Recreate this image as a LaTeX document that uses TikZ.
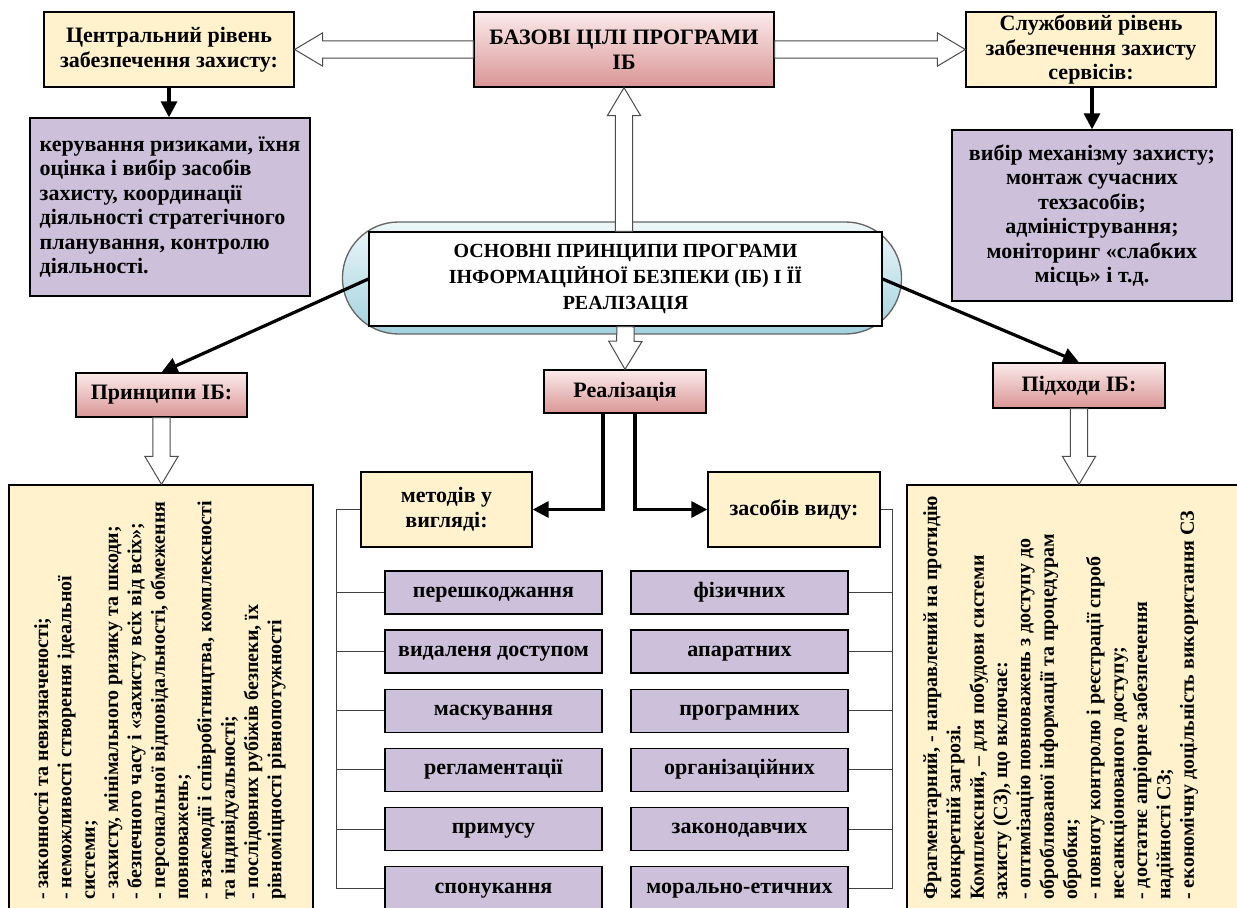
\documentclass[tikz,border=0pt]{standalone}
\usepackage{fontspec}
\setmainfont{Liberation Serif}
\usetikzlibrary{positioning, calc, arrows.meta, shapes.misc}

\definecolor{boxyellow}{RGB}{255,242,204}
\definecolor{boxpurple}{RGB}{204,192,218}
\definecolor{pinklight}{RGB}{251,234,234}
\definecolor{pinkdark}{RGB}{218,150,150}
\definecolor{pilltop}{RGB}{238,247,250}
\definecolor{pillbottom}{RGB}{162,210,222}

% hollow block arrow from #1 to #2
\newcommand{\hollowarrow}[2]{%
  \path ($(#2)!21pt!(#1)$) coordinate (ha);
  \draw[hollow] ($(#1)!6.5pt!90:(#2)$) -- ($(ha)!6.5pt!-90:(#1)$) -- ($(ha)!12.5pt!-90:(#1)$) -- (#2)
    -- ($(ha)!12.5pt!90:(#1)$) -- ($(ha)!6.5pt!90:(#1)$) -- ($(#1)!6.5pt!-90:(#2)$) -- cycle;
}

\begin{document}
\begin{tikzpicture}[x=0.75pt, y=-0.75pt,
    every node/.style={font=\fontsize{16.5}{18.4}\selectfont\bfseries},
    boxsize/.style 2 args={minimum width=#1*0.75pt, minimum height=#2*0.75pt},
    yellowbox/.style={draw, line width=1pt, fill=boxyellow, align=center, inner sep=2pt},
    purplebox/.style={draw, line width=1pt, fill=boxpurple, align=center, inner sep=2pt},
    pinkbox/.style={draw, line width=1pt, top color=pinklight, bottom color=pinkdark, align=center, inner sep=2pt},
    itembox/.style={purplebox, boxsize={217}{43}, text height=9pt, text depth=1.4pt},
    blackarrow/.style={line width=2.4pt, -{Triangle[length=12pt, width=12pt]}},
    hollow/.style={draw=black!70, line width=0.75pt, fill=white},
    bracket/.style={line width=0.6pt, black!75},
    vtext/.style={rotate=90, anchor=north west, inner sep=0pt, align=left, font=\fontsize{15}{17.5}\selectfont\bfseries}
]
    \useasboundingbox[fill=white] (0,0) rectangle (1237,907);
    \clip (0,0) rectangle (1237,907);

    % Draw top row
    \node[yellowbox, boxsize={250}{75}] (central) at (169,49.5) {Центральний рівень\\забезпечення захисту:};
    \node[pinkbox, boxsize={300}{75}] (goals) at (624,49.5) {БАЗОВІ ЦІЛІ ПРОГРАМИ\\ІБ};
    \node[yellowbox, boxsize={250}{75}] (service) at (1091,49.5) {Службовий рівень\\забезпечення захисту\\сервісів:};

    \node[purplebox, boxsize={280}{178}, align=left] (risks) at (170,207) {керування ризиками, їхня\\оцінка і вибір засобів\\захисту, координації\\діяльності стратегічного\\планування, контролю\\діяльності.};
    \node[purplebox, boxsize={280}{171}] (mech) at (1092,215.5) {вибір механізму захисту;\\монтаж сучасних\\техзасобів;\\адміністрування;\\моніторинг «слабких\\місць» і т.д.};

    % Draw the main pill
    \node[rounded rectangle, draw=black!60, line width=1pt, top color=pilltop, bottom color=pillbottom, boxsize={568}{112}] (pill) at (622,278) {};
    \node[draw, line width=1pt, fill=white, boxsize={513}{94}, align=center, font=\fontsize{15}{19.5}\selectfont\bfseries] (main) at (625.5,279) {ОСНОВНІ ПРИНЦИПИ ПРОГРАМИ\\ІНФОРМАЦІЙНОЇ БЕЗПЕКИ (ІБ) І ЇЇ\\РЕАЛІЗАЦІЯ};

    % Draw second row
    \node[pinkbox, boxsize={171}{44}] (principles) at (161.5,395) {Принципи ІБ:};
    \node[pinkbox, boxsize={162}{43}] (realis) at (625,391.5) {Реалізація};
    \node[pinkbox, boxsize={172}{45}] (approaches) at (1079,385.5) {Підходи ІБ:};

    % Draw the two long lists
    \node[yellowbox, boxsize={304}{430}] (princlist) at (161,700) {};
    \node[vtext] (princtext) at (34,900) {- законності та невизначеності;\\- неможливості створення ідеальної\\системи;\\- захисту, мінімального ризику та шкоди;\\- безпечного часу і «захисту всіх від всіх»;\\- персональної відповідальності, обмеження\\повноважень;\\- взаємодії і співробітництва, комплексності\\та індивідуальності;\\- послідовних рубіжів безпеки, їх\\рівноміцності рівнопотужності};

    \node[yellowbox, boxsize={338}{430}] (apprlist) at (1076,700) {};
    \node[vtext] (apprtext) at (923,900) {Фрагментарний, - направлений на протидію\\конкретній загрозі.\\Комплексний, – для побудови системи\\захисту (СЗ), що включає:\\- оптимізацію повноважень з доступу до\\оброблюваної інформації та процедурам\\обробки;\\- повноту контролю і реєстрації спроб\\несанкціонованого доступу;\\- достатнє апріорне забезпечення\\надійності СЗ;\\- економічну доцільність використання СЗ};

    % Draw methods and means
    \node[yellowbox, boxsize={171}{75}] (methods) at (446.5,509.5) {методів у\\вигляді:};
    \node[yellowbox, boxsize={172}{75}] (means) at (794,509.5) {засобів виду:};

    \foreach \txt [count=\i] in {перешкоджання, видаленя доступом, маскування, регламентації, примусу, спонукання}
        \node[itembox] (m\i) at (493.5,{592.5+59.1*(\i-1)}) {\txt};
    \foreach \txt [count=\i] in {фізичних, апаратних, програмних, організаційних, законодавчих, морально-етичних}
        \node[itembox] (s\i) at (739.5,{592.5+59.1*(\i-1)}) {\txt};

    % Draw hollow arrows
    \hollowarrow{goals.west}{central.east}
    \hollowarrow{goals.east}{service.west}
    \coordinate (upfrom) at (goals.south |- main.north);
    \hollowarrow{upfrom}{goals.south}
    \hollowarrow{main.south}{realis.north}
    \coordinate (pdown) at (principles.south |- princlist.north);
    \hollowarrow{principles.south}{pdown}
    \coordinate (adown) at (approaches.south |- apprlist.north);
    \hollowarrow{approaches.south}{adown}

    % Draw black arrows
    \draw[blackarrow] (central.south) -- (central.south |- risks.north);
    \draw[blackarrow] (mech.north |- service.south) -- (mech.north);
    \draw[blackarrow] (main.west) -- (principles.north);
    \draw[blackarrow] (main.east) -- (approaches.north);
    \draw[blackarrow] ($(realis.south)+(-22,0)$) |- (methods.east);
    \draw[blackarrow] ($(realis.south)+(10,0)$) |- (means.west);

    % Draw brackets to the items
    \coordinate (mleft) at ($(methods.west)+(-24,0)$);
    \draw[bracket] (methods.west) -- (mleft) |- (m6.west);
    \foreach \i in {1,...,5}
        \draw[bracket] (mleft |- m\i.west) -- (m\i.west);
    \coordinate (sright) at ($(means.east)+(12,0)$);
    \draw[bracket] (means.east) -- (sright) |- (s6.east);
    \foreach \i in {1,...,5}
        \draw[bracket] (sright |- s\i.east) -- (s\i.east);
\end{tikzpicture}
\end{document}
